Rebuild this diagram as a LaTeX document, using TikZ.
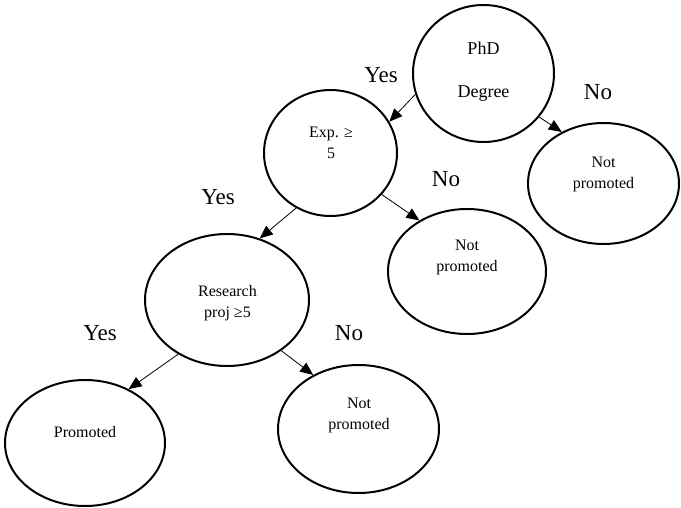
\documentclass[tikz,border=0pt]{standalone}
\usepackage{fontspec}
\setmainfont{Liberation Serif}
\usetikzlibrary{shapes.geometric,arrows.meta}
\begin{document}
\begin{tikzpicture}[x=1pt,y=-1pt,
  oval/.style args={#1/#2}{ellipse, draw, line width=2pt,
    minimum width=#1pt, minimum height=#2pt, inner sep=0pt},
  nodetext/.style={font=\fontsize{16}{21}\selectfont, align=center, inner sep=0pt},
  toptext/.style={font=\fontsize{18}{21.5}\selectfont, align=center, inner sep=0pt},
  choice/.style={font=\fontsize{23}{26}\selectfont, anchor=base, inner sep=0pt},
  branch/.style={draw, line width=0.8pt, -{Triangle[length=13pt,width=11pt]}}]

% canvas
\fill[white] (0,0) rectangle (681,508);
\useasboundingbox (0,0) rectangle (681,508);

% decision and outcome ellipses
\node[oval=141/137] (phd)   at (483.5,73.5) {};
\node[oval=151/121] (nprA)  at (603.5,183.5) {};
\node[oval=133/126] (exp)   at (330.5,153) {};
\node[oval=158/125] (nprB)  at (467,271.5) {};
\node[oval=164/132] (res)   at (227,300) {};
\node[oval=160/126] (prom)  at (85,443) {};
\node[oval=161/128] (nprC)  at (358.5,429) {};

% texts inside the ellipses
\node[toptext]  (tPhd)  at (483.5,71.5) {PhD\\[21.5pt]Degree};
\node[nodetext] (tNprA) at (603.5,174.5) {Not\\promoted};
\node[nodetext] (tExp)  at (331,142.5) {Exp. ≥\\5};
\node[nodetext] (tNprB) at (467,257.5) {Not\\promoted};
\node[nodetext] (tRes)  at (227.5,303.5) {Research\\proj ≥5};
\node[nodetext] (tProm) at (85,432.5) {Promoted};
\node[nodetext] (tNprC) at (359,415) {Not\\promoted};

% branch labels
\node[choice] (yes1) at (381,83)  {Yes};
\node[choice] (no1)  at (598,100) {No};
\node[choice] (yes2) at (218,205) {Yes};
\node[choice] (no2)  at (446,187) {No};
\node[choice] (yes3) at (100,340) {Yes};
\node[choice] (no3)  at (349,340) {No};

% connectors
\draw[branch] (phd.197) -- (exp.28);
\draw[branch] (phd.322) -- (nprA.129);
\draw[branch] (exp.238) -- (res.62);
\draw[branch] (exp.321) -- (nprB.133);
\draw[branch] (res.228) -- (prom.51);
\draw[branch] (res.317) -- (nprC.130);
\end{tikzpicture}
\end{document}
